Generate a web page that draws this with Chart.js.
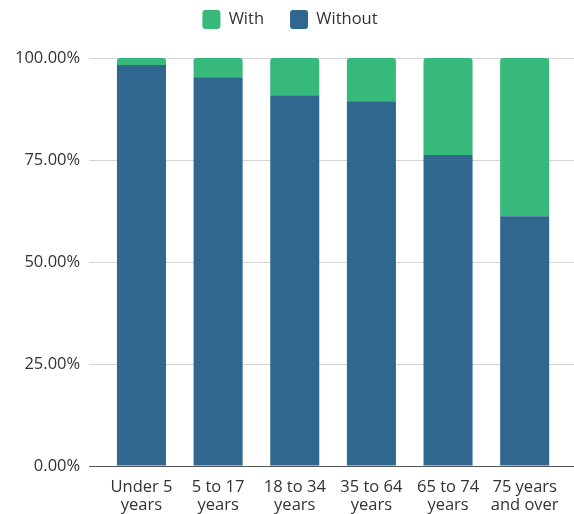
<!DOCTYPE html>
<html>
<head>
<meta charset="utf-8">
<script src="https://cdn.jsdelivr.net/npm/chart.js@4"></script>
<style>
  html, body { margin: 0; padding: 0; background: #fff; }
  #wrap { width: 574px; height: 514px; }
</style>
</head>
<body>
<div id="wrap"><canvas id="myChart" width="574" height="514"></canvas></div>
<script>
var categories = [['Under 5', 'years'], ['5 to 17', 'years'], ['18 to 34', 'years'],
    ['35 to 64', 'years'], ['65 to 74', 'years'], ['75 years', 'and over']];
var withoutValues = [98.3, 95.3, 90.9, 89.4, 76.2, 61.2];
var withValues = [1.7, 4.7, 9.1, 10.6, 23.8, 38.8];
var yTicks = [0, 25, 50, 75, 100];

Chart.defaults.font.family = '"Open Sans", sans-serif';
Chart.defaults.font.size = 16.5;
Chart.defaults.color = '#333';

// extra room under the legend
var legendGap = {
    id: 'legendGap',
    beforeInit: function(chart) {
        var fit = chart.legend.fit;
        chart.legend.fit = function() {
            fit.bind(this)();
            this.height += 19;
        };
    }
};

function gridColor(c) {
    return c.tick && c.tick.value === 0 ? '#555' : '#d4d4d4';
}

var ctx = document.getElementById('myChart').getContext('2d');
var myChart = new Chart(ctx, {
    type: 'bar',
    plugins: [legendGap],
    data: {
        labels: categories,
        datasets: [{
            label: 'Without',
            data: withoutValues,
            backgroundColor: '#30678e',
            borderWidth: 0,
            categoryPercentage: 0.64,
            barPercentage: 1
        }, {
            label: 'With',
            data: withValues,
            backgroundColor: '#37b97b',
            borderRadius: { topLeft: 3, topRight: 3 },
            borderSkipped: false,
            categoryPercentage: 0.64,
            barPercentage: 1
        }]
    },
    options: {
        responsive: false,
        animation: false,
        layout: { padding: { left: 6, right: 0, top: -16, bottom: -5 } },
        plugins: {
            legend: {
                reverse: true,
                labels: {
                    boxWidth: 18,
                    boxHeight: 19,
                    padding: 26,
                    useBorderRadius: true,
                    borderRadius: 3,
                    color: '#333'
                }
            },
            tooltip: { enabled: false }
        },
        scales: {
            x: {
                stacked: true,
                grid: { display: false },
                border: { display: false },
                ticks: { color: '#333', maxRotation: 0, padding: 4, font: { lineHeight: 1.12 } }
            },
            y: {
                stacked: true,
                min: 0,
                max: 100,
                afterBuildTicks: function(axis) {
                    axis.ticks = yTicks.map(function(v) { return { value: v }; });
                },
                grid: { color: gridColor, drawTicks: true, tickLength: 14 },
                border: { display: false },
                ticks: {
                    color: '#333',
                    padding: 9,
                    callback: function(v) { return v.toFixed(2) + '%'; }
                }
            },
            y2: {
                position: 'right',
                min: 0,
                max: 100,
                afterBuildTicks: function(axis) {
                    axis.ticks = yTicks.map(function(v) { return { value: v }; });
                },
                grid: { color: gridColor, drawOnChartArea: false, drawTicks: true, tickLength: 11 },
                border: { display: false },
                ticks: { display: false }
            }
        }
    }
});
</script>
</body>
</html>
